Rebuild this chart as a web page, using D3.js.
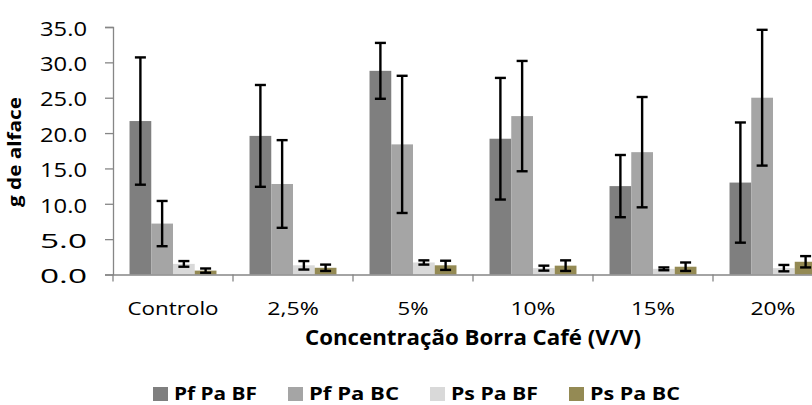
<!DOCTYPE html>
<html>
<head>
<meta charset="utf-8">
<script src="https://cdn.jsdelivr.net/npm/d3@7"></script>
<style>
  html, body { margin: 0; padding: 0; background: #fff; }
  svg { display: block; }
  text { font-family: "Open Sans", "Noto Sans", sans-serif; fill: #000; }
</style>
</head>
<body>
<svg id="chart" width="812" height="405"></svg>
<script>
// Lettuce mass (g) per coffee-grounds concentration
const categories = ["Controlo", "2,5%", "5%", "10%", "15%", "20%"];
const seriesNames = ["Pf Pa BF", "Pf Pa BC", "Ps Pa BF", "Ps Pa BC"];

const pfPaBF = [21.7, 19.6, 28.8, 19.2, 12.5, 13.0];
const pfPaBC = [7.2, 12.8, 18.4, 22.4, 17.3, 25.0];
const psPaBF = [1.5, 1.3, 1.7, 0.9, 0.8, 0.9];
const psPaBC = [0.55, 0.95, 1.3, 1.25, 1.1, 1.8];

const pfPaBFErr = [9.0, 7.2, 3.95, 8.6, 4.4, 8.5];
const pfPaBCErr = [3.2, 6.2, 9.7, 7.8, 7.8, 9.6];
const psPaBFErr = [0.4, 0.6, 0.3, 0.35, 0.2, 0.45];
const psPaBCErr = [0.3, 0.45, 0.65, 0.75, 0.6, 0.8];

const yTicks = [0, 5, 10, 15, 20, 25, 30, 35];

const seriesValues = [pfPaBF, pfPaBC, psPaBF, psPaBC];
const seriesErrors = [pfPaBFErr, pfPaBCErr, psPaBFErr, psPaBCErr];
const colors = ["#7f7f7f", "#a5a5a5", "#d9d9d9", "#948a54"];

const svg = d3.select("#chart");
const axisColor = "#868686";

// plot area (right edge runs past the window, so the last group is clipped)
const plotLeft = 113, plotRight = 833, plotTop = 27, plotBottom = 274.5;

const x0 = d3.scaleBand().domain(categories).range([plotLeft, plotRight]).padding(0);
const x1 = d3.scaleBand().domain(seriesNames).range([0, x0.bandwidth()])
  .paddingInner(0).paddingOuter(0.76);
const y = d3.scaleLinear().domain([0, 35]).range([plotBottom, plotTop]);

// bars
const rows = [];
categories.forEach((c, ci) => {
  seriesNames.forEach((s, si) => {
    rows.push({ c, s, si, v: seriesValues[si][ci], e: seriesErrors[si][ci] });
  });
});

svg.append("g").selectAll("rect").data(rows).join("rect")
  .attr("x", d => x0(d.c) + x1(d.s))
  .attr("y", d => y(d.v))
  .attr("width", x1.bandwidth())
  .attr("height", d => y(0) - y(d.v))
  .attr("fill", d => colors[d.si]);

// axes
const yAxis = d3.axisLeft(y).tickValues(yTicks).tickSize(8).tickPadding(18)
  .tickFormat(d3.format(".1f"));
const gy = svg.append("g").attr("transform", `translate(${plotLeft},0)`).call(yAxis);
gy.select(".domain").attr("stroke", axisColor).attr("stroke-width", 1.3);
gy.selectAll(".tick line").attr("stroke", axisColor).attr("stroke-width", 1.3);
gy.selectAll(".tick text")
  .attr("font-size", 19.6)
  .attr("font-family", "'Open Sans', sans-serif")
  .attr("fill", "#000")
  .attr("x", -26)
  .attr("dy", "0.42em")
  .attr("textLength", 47)
  .attr("lengthAdjust", "spacingAndGlyphs");

const xAxis = d3.axisBottom(x0).tickSize(0).tickPadding(0);
const gx = svg.append("g").attr("transform", `translate(0,${plotBottom})`).call(xAxis);
gx.select(".domain").attr("stroke", axisColor).attr("stroke-width", 1.3);
// category boundary ticks
gx.selectAll(".bound").data(categories).join("line")
  .attr("class", "bound")
  .attr("x1", d => x0(d)).attr("x2", d => x0(d))
  .attr("y1", 0).attr("y2", 7)
  .attr("stroke", axisColor).attr("stroke-width", 1.3);
const labelWidths = [91, 51.6, 31, 45, 44, 45];
gx.selectAll(".tick text")
  .attr("font-size", 18.6)
  .attr("font-family", "'Open Sans', sans-serif")
  .attr("fill", "#000")
  .attr("dy", null)
  .attr("y", 40.5)
  .attr("textLength", (d, i) => labelWidths[i])
  .attr("lengthAdjust", "spacingAndGlyphs");

// error bars
const capHalf = 5.5;
const eb = svg.append("g").attr("stroke", "#000").attr("stroke-width", 2.4);
rows.forEach(d => {
  const cx = x0(d.c) + x1(d.s) + x1.bandwidth() / 2;
  const y1 = y(d.v + d.e), y2 = y(d.v - d.e);
  eb.append("line").attr("x1", cx).attr("x2", cx).attr("y1", y1).attr("y2", y2);
  eb.append("line").attr("x1", cx - capHalf).attr("x2", cx + capHalf).attr("y1", y1).attr("y2", y1);
  eb.append("line").attr("x1", cx - capHalf).attr("x2", cx + capHalf).attr("y1", y2).attr("y2", y2);
});

// axis titles
svg.append("text")
  .attr("transform", `translate(21,152) rotate(-90)`)
  .attr("text-anchor", "middle")
  .attr("font-weight", "bold")
  .attr("font-size", 17)
  .attr("textLength", 110)
  .attr("lengthAdjust", "spacingAndGlyphs")
  .text("g de alface");

svg.append("text")
  .attr("x", (plotLeft + plotRight) / 2)
  .attr("y", 344.5)
  .attr("text-anchor", "middle")
  .attr("font-weight", "bold")
  .attr("font-size", 22)
  .attr("textLength", 336)
  .attr("lengthAdjust", "spacingAndGlyphs")
  .text("Concentração Borra Café (V/V)");

// legend
const legendWidths = [83, 90, 87, 90];
const legend = svg.append("g");
let lx = 153;
seriesNames.forEach((s, i) => {
  legend.append("rect").attr("x", lx).attr("y", 387).attr("width", 15).attr("height", 14)
    .attr("fill", colors[i]);
  legend.append("text")
    .attr("x", lx + 21).attr("y", 400)
    .attr("font-weight", "bold").attr("font-size", 18.5)
    .attr("textLength", legendWidths[i])
    .attr("lengthAdjust", "spacingAndGlyphs")
    .text(s);
  lx += 21 + legendWidths[i] + 31;
});
</script>
</body>
</html>
